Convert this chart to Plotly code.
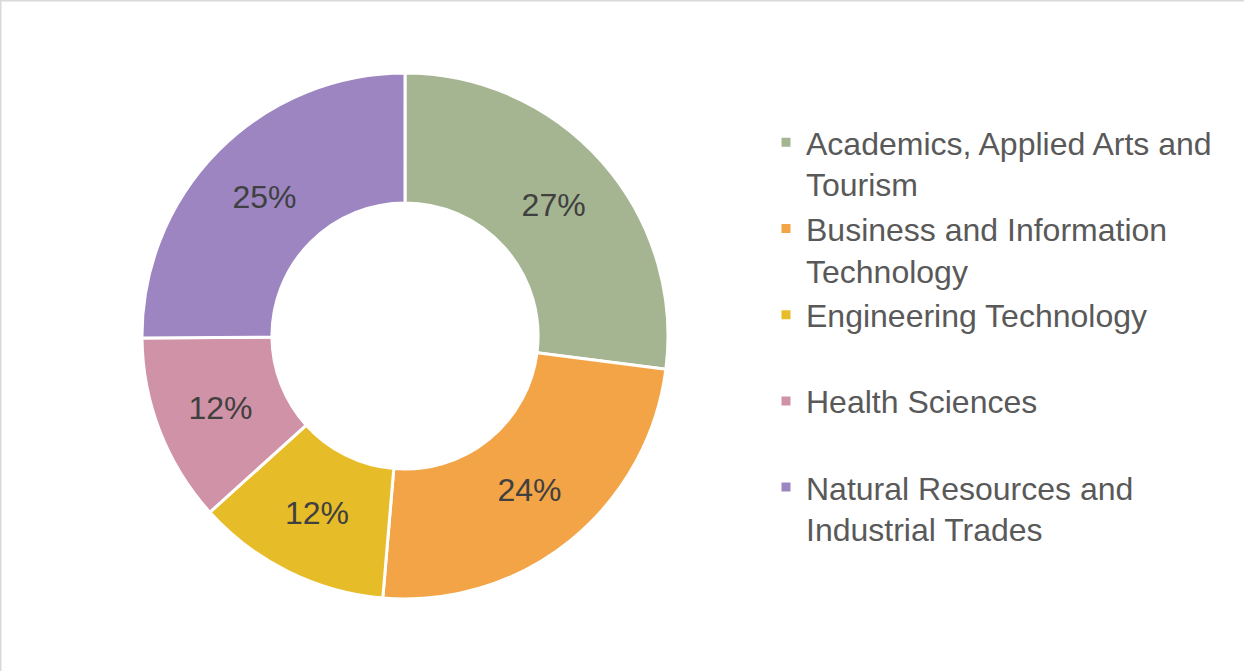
import plotly.graph_objects as go

# Program areas (legend text, with manual line breaks)
categories = [
    "Academics, Applied Arts and<br>Tourism",
    "Business and Information<br>Technology",
    "Engineering Technology<br> ",
    "Health Sciences<br> ",
    "Natural Resources and<br>Industrial Trades",
]
shares = [27.1, 24.4, 12.0, 11.6, 25.2]
colors = ["#A5B592", "#F3A447", "#E7BC29", "#D092A7", "#9C85C0"]

W, H = 1244, 671
cx, cy, r = 405, 336, 263

fig = go.Figure(
    go.Pie(
        labels=categories,
        values=shares,
        sort=False,
        direction="clockwise",
        rotation=0,
        hole=0.506,
        marker=dict(colors=colors, line=dict(color="white", width=3)),
        textinfo="percent",
        texttemplate="%{percent:.0%}",
        textposition="inside",
        insidetextorientation="horizontal",
        textfont=dict(family="Arial, Liberation Sans", size=32, color="#404040"),
        hoverinfo="label+percent",
        domain=dict(
            x=[(cx - r) / W, (cx + r) / W],
            y=[(H - cy - r) / H, (H - cy + r) / H],
        ),
    )
)

fig.update_layout(
    width=W,
    height=H,
    margin=dict(l=0, r=0, t=0, b=0),
    paper_bgcolor="white",
    plot_bgcolor="white",
    font=dict(family="Arial, Liberation Sans", color="#595959"),
    showlegend=True,
    legend=dict(
        x=766 / W,
        xanchor="left",
        y=1 - 115 / H,
        yanchor="top",
        valign="top",
        font=dict(family="Arial, Liberation Sans", size=32, color="#595959"),
        bgcolor="rgba(0,0,0,0)",
        traceorder="normal",
    ),
    shapes=[
        dict(type="line", xref="paper", yref="paper", x0=0, x1=1, y0=1, y1=1,
             line=dict(color="#D9D9D9", width=3)),
        dict(type="line", xref="paper", yref="paper", x0=0, x1=0, y0=0, y1=1,
             line=dict(color="#D9D9D9", width=3)),
    ],
)

fig.write_html("out.html")
